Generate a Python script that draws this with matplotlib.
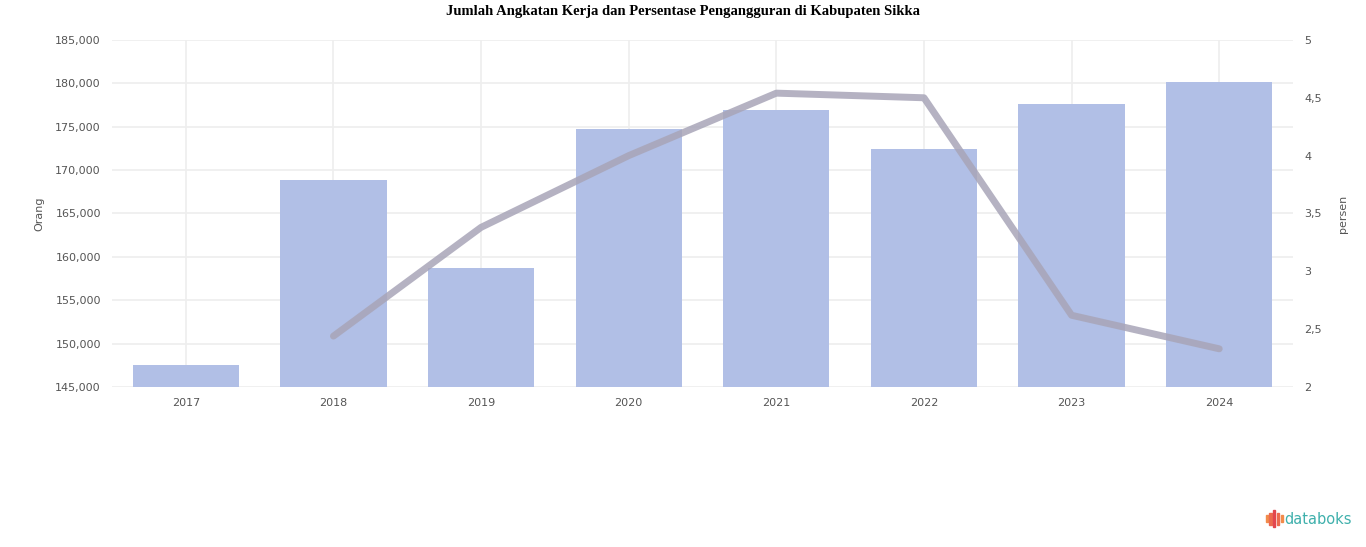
import numpy as np
import matplotlib.pyplot as plt
from matplotlib.patches import Rectangle

# data
years = ['2017', '2018', '2019', '2020', '2021', '2022', '2023', '2024']
angkatan_kerja = [147500, 168900, 158700, 174700, 176900, 172400, 177600, 180200]
pengangguran = [None, 2.44, 3.38, 4.0, 4.54, 4.5, 2.62, 2.33]

fig = plt.figure(figsize=(13.66, 5.47), dpi=100)
ax = fig.add_axes([0.082, 0.2925, 0.8646, 0.6345])
ax2 = ax.twinx()

x = np.arange(len(years))
ax.bar(x, [v - 145000 for v in angkatan_kerja], bottom=145000, width=0.72,
       color='#b1bfe6', zorder=2)
ax.set_xlim(-0.5, len(years) - 0.5)
ax.set_ylim(145000, 185000)
ax.set_yticks(np.arange(145000, 185001, 5000))
ax.set_yticklabels([f'{v:,}' for v in range(145000, 185001, 5000)])
ax.set_xticks(x)
ax.set_xticklabels(years)
ax.grid(True, color='#eeeeee', linewidth=1.2, zorder=0)
ax.set_ylabel('Orang', fontsize=8, color='#555555', labelpad=8)

xs = [i for i, v in enumerate(pengangguran) if v is not None]
ys = [v for v in pengangguran if v is not None]
ax2.plot(xs, ys, color='#a8a5b8', linewidth=5, alpha=0.85, solid_capstyle='round',
         solid_joinstyle='round', zorder=3)
ax2.set_ylim(2, 5)
ax2.set_yticks(np.arange(2, 5.01, 0.5))
ax2.set_yticklabels([f'{v:g}'.replace('.', ',') for v in np.arange(2, 5.01, 0.5)])
ax2.set_ylabel('persen', fontsize=8, color='#555555', labelpad=12)

for a in (ax, ax2):
    for s in a.spines.values():
        s.set_visible(False)
    a.tick_params(length=0, labelsize=8, colors='#555555', pad=8)

fig.suptitle('Jumlah Angkatan Kerja dan Persentase Pengangguran di Kabupaten Sikka',
             x=0.5, y=0.99, fontsize=10.5, fontweight='bold', family='Liberation Serif')

# databoks logo
cols = ['#f28b4b', '#ec6a4f', '#e2474f', '#ec6a4f', '#f28b4b']
hts = [0.012, 0.022, 0.03, 0.022, 0.012]
for i, (c, h) in enumerate(zip(cols, hts)):
    fig.patches.append(Rectangle((0.9265 + i * 0.0028, 0.037 + (0.03 - h) / 2), 0.0016, h,
                                 transform=fig.transFigure, color=c))
fig.text(0.9405, 0.051, 'databoks', fontsize=10.5, color='#3fb0ac', va='center',
         family='DejaVu Sans')

fig.savefig('out.png', dpi=100)
